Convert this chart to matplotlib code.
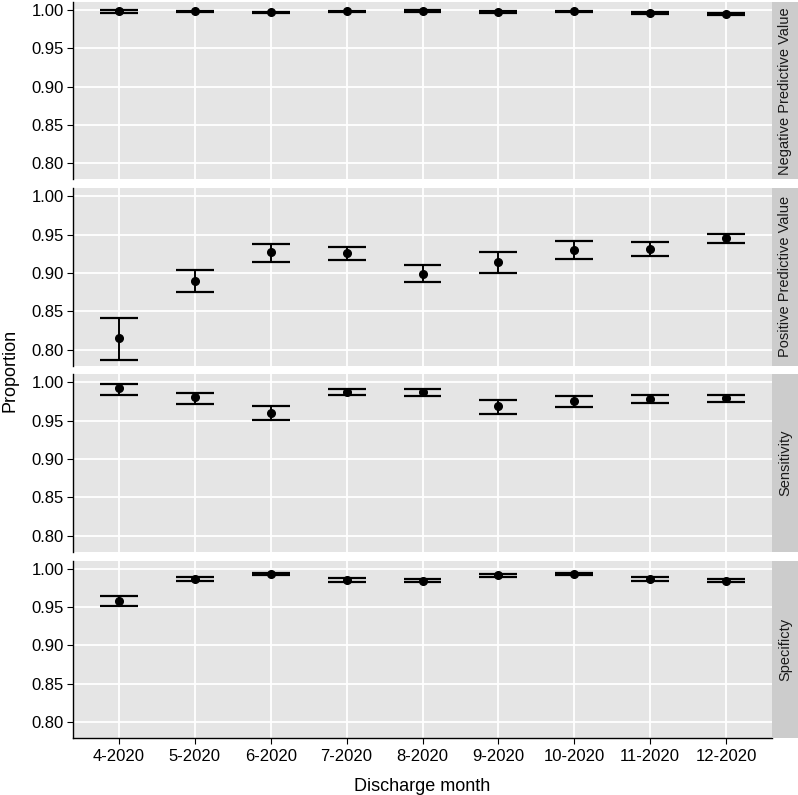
import matplotlib
matplotlib.use("Agg")
import matplotlib.pyplot as plt
import numpy as np

plt.rcParams['font.family'] = ['Liberation Sans', 'DejaVu Sans']

months = ["4-2020", "5-2020", "6-2020", "7-2020", "8-2020",
          "9-2020", "10-2020", "11-2020", "12-2020"]
metrics = ["Negative Predictive Value", "Positive Predictive Value",
           "Sensitivity", "Specificty"]

npv = [0.9991, 0.9983, 0.9970, 0.9983, 0.9987, 0.9978, 0.9983, 0.9965, 0.9948]
npv_lo = [0.9965, 0.9970, 0.9957, 0.9970, 0.9978, 0.9965, 0.9970, 0.9952, 0.9935]
npv_hi = [1.0000, 0.9991, 0.9978, 0.9991, 0.9996, 0.9987, 0.9991, 0.9974, 0.9961]

ppv = [0.815, 0.890, 0.927, 0.926, 0.899, 0.914, 0.930, 0.931, 0.945]
ppv_lo = [0.787, 0.875, 0.914, 0.917, 0.888, 0.900, 0.918, 0.922, 0.939]
ppv_hi = [0.841, 0.904, 0.938, 0.934, 0.910, 0.927, 0.942, 0.940, 0.951]

sens = [0.9926, 0.9804, 0.9600, 0.9874, 0.9874, 0.9687, 0.9757, 0.9787, 0.9790]
sens_lo = [0.9830, 0.9720, 0.9504, 0.9830, 0.9820, 0.9590, 0.9678, 0.9735, 0.9748]
sens_hi = [0.9974, 0.9860, 0.9696, 0.9913, 0.9917, 0.9765, 0.9826, 0.9840, 0.9840]

spec = [0.9574, 0.9865, 0.9930, 0.9857, 0.9843, 0.9917, 0.9930, 0.9870, 0.9843]
spec_lo = [0.9509, 0.9843, 0.9913, 0.9830, 0.9820, 0.9896, 0.9917, 0.9843, 0.9820]
spec_hi = [0.9643, 0.9896, 0.9943, 0.9880, 0.9870, 0.9935, 0.9943, 0.9890, 0.9870]

series = [(npv, npv_lo, npv_hi), (ppv, ppv_lo, ppv_hi),
          (sens, sens_lo, sens_hi), (spec, spec_lo, spec_hi)]

W, H = 798, 795
fig = plt.figure(figsize=(W / 100, H / 100), dpi=100)

left, right, strip_r = 73.3, 771.7, 798
top, bottom = 2, 738
gap = 8.7
ph = (bottom - top - 3 * gap) / 4

x = np.arange(len(months))
for i, (name, (val, lo, hi)) in enumerate(zip(metrics, series)):
    y0 = top + i * (ph + gap)
    ax = fig.add_axes([left / W, 1 - (y0 + ph) / H, (right - left) / W, ph / H])
    ax.set_facecolor("#E5E5E5")
    ax.set_xlim(-0.6, len(months) - 0.4)
    ax.set_ylim(0.779, 1.0105)
    ax.set_yticks([0.80, 0.85, 0.90, 0.95, 1.00])
    ax.set_yticklabels(["0.80", "0.85", "0.90", "0.95", "1.00"])
    ax.set_xticks(x)
    ax.grid(True, color="white", linewidth=1.3)
    ax.set_axisbelow(True)
    for s in ["top", "right"]:
        ax.spines[s].set_visible(False)
    ax.spines["left"].set_linewidth(1.0)
    ax.tick_params(axis="y", labelsize=12, length=4, width=0.8, pad=3)
    if i < 3:
        ax.spines["bottom"].set_visible(False)
        ax.tick_params(axis="x", length=0, labelbottom=False)
    else:
        ax.spines["bottom"].set_linewidth(1.0)
        ax.set_xticklabels(months)
        ax.tick_params(axis="x", labelsize=12, length=4, width=0.8, pad=4)
        ax.set_xlabel("Discharge month", fontsize=13, labelpad=10)

    ax.vlines(x, lo, hi, color="black", linewidth=1.4)
    ax.hlines(lo, x - 0.25, x + 0.25, color="black", linewidth=1.6)
    ax.hlines(hi, x - 0.25, x + 0.25, color="black", linewidth=1.6)
    ax.plot(x, val, "o", color="black", markersize=5.5)

    # facet strip on the right
    sax = fig.add_axes([right / W, 1 - (y0 + ph) / H, (strip_r - right) / W, ph / H])
    sax.set_facecolor("#CCCCCC")
    sax.set_xticks([])
    sax.set_yticks([])
    for s in sax.spines.values():
        s.set_visible(False)
    sax.text(0.5, 0.5, name, rotation=90, ha="center", va="center",
             fontsize=10.5, color="#1A1A1A", transform=sax.transAxes)

fig.text(10 / W, 1 - 370 / H, "Proportion", rotation=90, ha="center",
         va="center", fontsize=13)

fig.savefig("out.png", dpi=100)
